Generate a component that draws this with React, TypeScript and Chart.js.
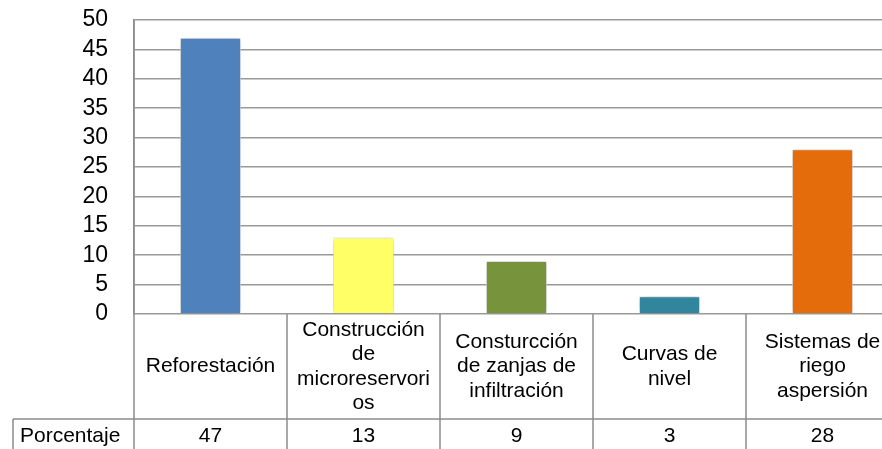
import React, { useEffect, useRef } from "react";
import { Chart, registerables } from "chart.js";

Chart.register(...registerables);

const categoryLines: string[][] = [
  ["Reforestación"],
  ["Construcción", "de", "microreservori", "os"],
  ["Consturcción", "de zanjas de", "infiltración"],
  ["Curvas de", "nivel"],
  ["Sistemas de", "riego", "aspersión"],
];
const seriesName = "Porcentaje";
const values: number[] = [47, 13, 9, 3, 28];
const barColors: string[] = ["#4F81BD", "#FFFF66", "#77933C", "#31859C", "#E46C0A"];
const yMin = 0;
const yMax = 50;
const yStep = 5;

const FONT = "'Liberation Sans', Arial, sans-serif";

export default function App() {
  const ref = useRef<HTMLCanvasElement | null>(null);

  useEffect(() => {
    if (!ref.current) return;

    const shadowPlugin = {
      id: "barShadow",
      beforeDatasetsDraw(chart: any) {
        const ctx = chart.ctx;
        ctx.save();
        ctx.shadowColor = "rgba(0,0,0,0.3)";
        ctx.shadowBlur = 6;
        ctx.shadowOffsetX = 0;
        ctx.shadowOffsetY = 0;
      },
      afterDatasetsDraw(chart: any) {
        chart.ctx.restore();
      },
    };

    const tablePlugin = {
      id: "dataTable",
      afterDraw(chart: any) {
        const ctx = chart.ctx;
        const area = chart.chartArea;
        const xs = chart.scales.x;
        const n = categoryLines.length;
        const w = (area.right - area.left) / n;
        const bottom = chart.height;
        const rowSplit = area.bottom + 105;
        const headerLeft = 13;
        ctx.save();
        ctx.strokeStyle = "#8c8c8c";
        ctx.lineWidth = 1.5;
        ctx.beginPath();
        for (let i = 0; i <= n; i++) {
          const x = area.left + i * w;
          ctx.moveTo(x, i === 0 ? area.top : area.bottom);
          ctx.lineTo(x, bottom);
        }
        ctx.moveTo(headerLeft, rowSplit);
        ctx.lineTo(area.right, rowSplit);
        ctx.moveTo(headerLeft, rowSplit);
        ctx.lineTo(headerLeft, bottom);
        ctx.moveTo(headerLeft, rowSplit + 31);
        ctx.lineTo(area.right, rowSplit + 31);
        ctx.stroke();

        ctx.fillStyle = "#000";
        ctx.font = `21px ${FONT}`;
        ctx.textBaseline = "middle";
        ctx.textAlign = "center";
        const lh = 24.5;
        const cy = (area.bottom + rowSplit) / 2;
        categoryLines.forEach((lines, i) => {
          const cx = xs.getPixelForValue(i);
          const start = cy - ((lines.length - 1) * lh) / 2;
          lines.forEach((t, j) => ctx.fillText(t, cx, start + j * lh));
        });
        const vy = rowSplit + 17;
        values.forEach((v, i) => {
          ctx.fillText(String(v), xs.getPixelForValue(i), vy);
        });
        ctx.textAlign = "left";
        ctx.fillText(seriesName, 20, vy);
        ctx.restore();
      },
    };

    const chart = new Chart(ref.current, {
      type: "bar",
      data: {
        labels: categoryLines.map((l) => l.join(" ")),
        datasets: [
          {
            label: seriesName,
            data: values,
            backgroundColor: barColors,
            borderColor: "rgba(255,255,255,0.7)",
            borderWidth: 1,
            categoryPercentage: 1,
            barPercentage: 0.4,
          },
        ],
      },
      options: {
        responsive: false,
        animation: false,
        devicePixelRatio: 1,
        layout: { padding: { top: 20, bottom: 135, left: 0, right: 1 } },
        plugins: {
          legend: { display: false },
          tooltip: { enabled: false },
        },
        scales: {
          x: { display: false },
          y: {
            min: yMin,
            max: yMax,
            afterFit(scale: any) {
              scale.width = 134;
              scale.paddingTop = 0;
              scale.paddingBottom = 0;
            },
            ticks: {
              stepSize: yStep,
              autoSkip: false,
              padding: 26,
              color: "#000",
              font: { family: FONT, size: 23 },
            },
            grid: {
              color: "#999",
              lineWidth: 1.5,
              drawTicks: false,
            },
            border: { color: "#8c8c8c", width: 1.5 },
          },
        },
      },
      plugins: [shadowPlugin, tablePlugin],
    });

    return () => chart.destroy();
  }, []);

  return (
    <div
      style={{
        position: "fixed",
        left: 0,
        top: 0,
        width: 882,
        height: 449,
        overflow: "hidden",
        background: "#fff",
      }}
    >
      <canvas ref={ref} width={900} height={449} style={{ display: "block", width: 900, height: 449 }} />
    </div>
  );
}
